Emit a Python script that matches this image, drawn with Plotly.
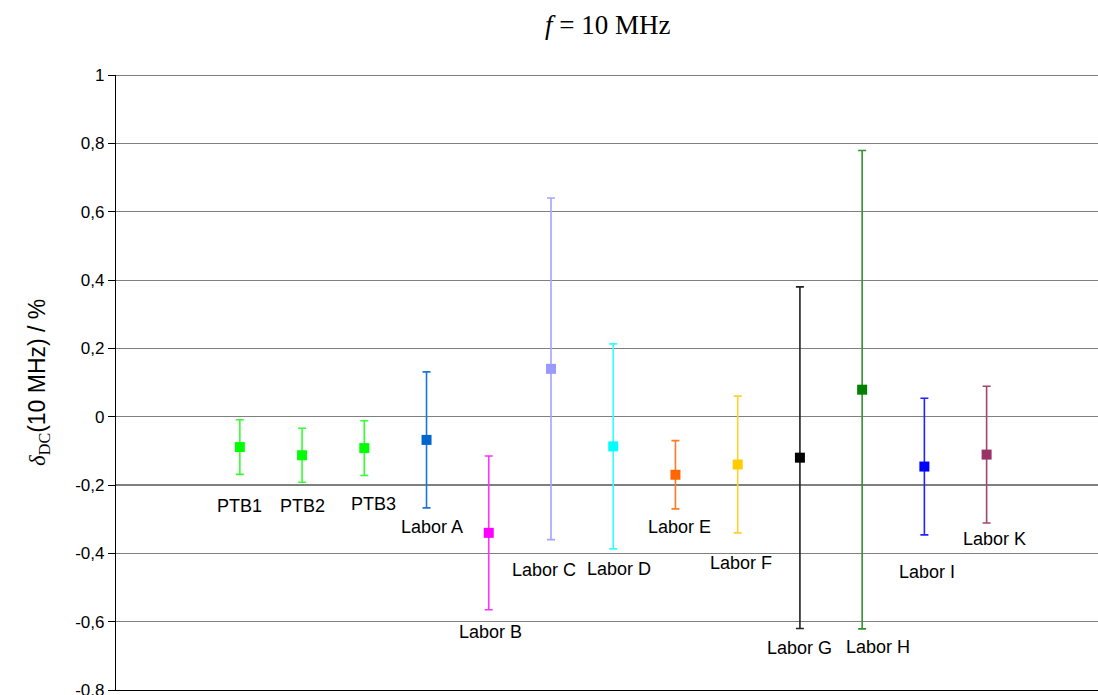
import plotly.graph_objects as go

# ---- data ----
labels = ["PTB1", "PTB2", "PTB3", "Labor A", "Labor B", "Labor C", "Labor D",
          "Labor E", "Labor F", "Labor G", "Labor H", "Labor I", "Labor K"]
values = [-0.089, -0.113, -0.092, -0.068, -0.340, 0.140, -0.087,
          -0.170, -0.140, -0.120, 0.079, -0.146, -0.111]
uncert = [0.080, 0.079, 0.080, 0.199, 0.225, 0.500, 0.300,
          0.100, 0.200, 0.500, 0.700, 0.200, 0.200]
y_ticks = [1, 0.8, 0.6, 0.4, 0.2, 0, -0.2, -0.4, -0.6, -0.8]
y_ticktext = ["1", "0,8", "0,6", "0,4", "0,2", "0", "-0,2", "-0,4", "-0,6", "-0,8"]

# ---- styles / label placement ----
colors = ["#00FF00", "#00FF00", "#00FF00", "#0066CC", "#FF00FF", "#9999FF", "#00FFFF",
          "#FF6600", "#FFCC00", "#000000", "#008000", "#0000FF", "#993366"]
bar_colors = ["#33FF33", "#33FF33", "#33FF33", "#1C75D6", "#FF33FF", "#A5A5FF", "#33FFFF",
              "#FF7A26", "#FFD030", "#222222", "#2E942E", "#2222FF", "#A0466F"]
label_dx = [0.0, 0.0, 0.14, 0.08, 0.03, -0.11, 0.085, 0.06, 0.06, 0.0, 0.26, 0.05, 0.13]
label_y = [-0.261, -0.261, -0.256, -0.322, -0.630, -0.448, -0.445,
           -0.322, -0.427, -0.677, -0.674, -0.454, -0.358]

fig = go.Figure()
xs = list(range(len(labels)))
for i, lab in enumerate(labels):
    fig.add_trace(go.Scatter(
        x=[xs[i]], y=[values[i]], mode="markers", name=lab,
        marker=dict(symbol="square", size=10, color=colors[i]),
        error_y=dict(type="data", array=[uncert[i]], symmetric=True,
                     color=bar_colors[i], thickness=1.6, width=4),
        showlegend=False, hoverinfo="skip", cliponaxis=False))

annotations = []
for i, lab in enumerate(labels):
    annotations.append(dict(x=xs[i] + label_dx[i], y=label_y[i], xref="x", yref="y",
                            text=lab, showarrow=False,
                            font=dict(family="Liberation Sans, Arial", size=18, color="#000000")))

# title
annotations.append(dict(x=0.5, y=1.0813, xref="paper", yref="paper",
                        text="<i>f</i> = 10 MHz", showarrow=False, yanchor="middle",
                        font=dict(family="Liberation Serif, Times New Roman", size=27, color="#000000")))
# y title
annotations.append(dict(x=-0.079, y=0.5, xref="paper", yref="paper", textangle=-90,
                        text="<span style='font-family:Liberation Serif'><i>δ</i><sub>DC</sub></span>(10 MHz) / %",
                        showarrow=False, xanchor="center", yanchor="middle",
                        font=dict(family="Liberation Sans, Arial", size=23, color="#000000")))

# -0.2 darker line and frame lines
shapes = [
    dict(type="line", xref="paper", yref="y", x0=0, x1=1, y0=-0.2, y1=-0.2,
         line=dict(color="#000000", width=1.2), layer="below"),
    dict(type="line", xref="paper", yref="y", x0=0, x1=1, y0=1, y1=1,
         line=dict(color="#000000", width=1.2), layer="below"),
]

fig.update_layout(
    width=1098, height=710,
    margin=dict(l=116, r=0, t=75, b=20),
    paper_bgcolor="white", plot_bgcolor="white",
    annotations=annotations, shapes=shapes,
    xaxis=dict(range=[-1.99, 13.79], showgrid=False, zeroline=False,
               showticklabels=False, ticks="", showline=True, linecolor="#000000",
               linewidth=1, mirror=False),
    yaxis=dict(range=[-0.8, 1], tickvals=y_ticks, ticktext=y_ticktext,
               showgrid=True, gridcolor="#7F7F7F", gridwidth=1,
               zeroline=False, showline=True, linecolor="#000000", linewidth=1.3,
               ticks="outside", ticklen=7, tickcolor="#000000", tickwidth=1,
               tickfont=dict(family="Liberation Sans, Arial", size=17, color="#000000")),
)

fig.write_html("out.html")
